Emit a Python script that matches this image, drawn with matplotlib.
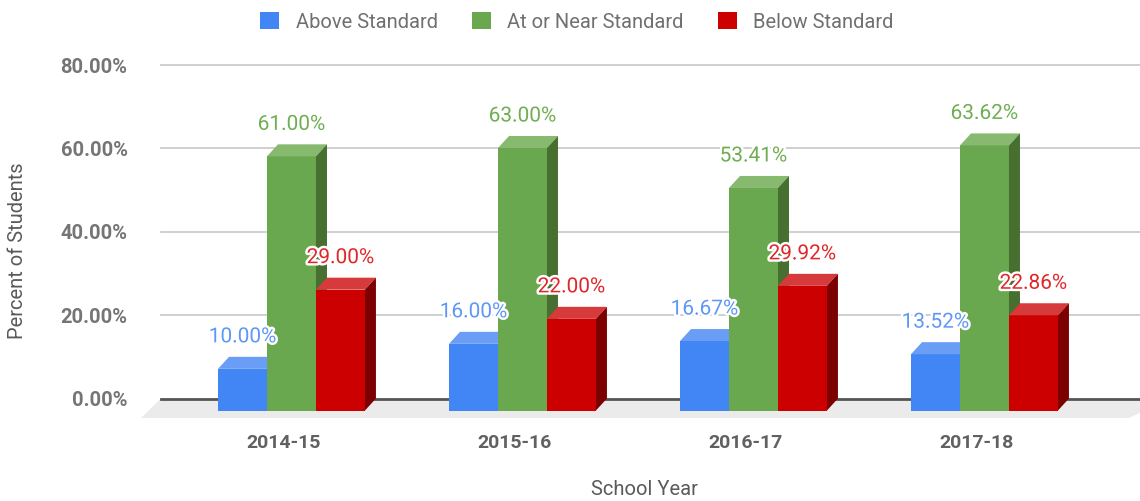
import matplotlib.pyplot as plt
from matplotlib.patches import Polygon, Patch
import matplotlib.patheffects as pe

plt.rcParams['font.family'] = ['Roboto', 'DejaVu Sans']

# data
years = ['2014-15', '2015-16', '2016-17', '2017-18']
series = ['Above Standard', 'At or Near Standard', 'Below Standard']
above = [10.00, 16.00, 16.67, 13.52]
near = [61.00, 63.00, 53.41, 63.62]
below = [29.00, 22.00, 29.92, 22.86]

front_cols = ['#4285f4', '#6aa84f', '#cc0000']
top_cols = ['#6a9ef6', '#87b96f', '#d63a3a']
side_cols = ['#2f62c0', '#466f30', '#7d0000']
label_cols = ['#5e97f6', '#6fae52', '#e0262a']

# geometry (group units on x, percent on y)
w = 0.212      # bar width
dx = 0.0476    # 3d depth in x
dy = 2.88      # 3d depth in y

fig = plt.figure(figsize=(11.4, 5.01), dpi=100)
ax = fig.add_axes([140 / 1140, 81 / 501, 1000 / 1140, 360 / 501])
ax.set_xlim(-0.6558, 3.6732)
ax.set_ylim(-5.16, 81.24)

# floor
x_back0, x_back1 = -0.5649, 3.80
x_front0, x_front1 = -0.6515, 3.6255
ax.add_patch(Polygon([(x_back0, 0), (x_back1, 0), (x_front1, -4.68), (x_front0, -4.68)],
                     closed=True, facecolor='#ebebeb', edgecolor='none', zorder=0))

# gridlines on the back wall
for v in [20, 40, 60, 80]:
    ax.plot([x_back0, 3.7], [v, v], color='#cccccc', lw=1.3, zorder=1)
ax.plot([x_back0, 3.7], [0, 0], color='#555555', lw=2, zorder=1)

for s, vals in enumerate([above, near, below]):
    for i, v in enumerate(vals):
        x0 = i + (s - 1) * w - w / 2
        x1 = x0 + w
        ax.bar(x0, v, width=w, bottom=-dy, align='edge', color=front_cols[s],
               edgecolor='none', zorder=3 + s)
        ax.add_patch(Polygon([(x0, v - dy), (x1, v - dy), (x1 + dx, v), (x0 + dx, v)],
                             closed=True, facecolor=top_cols[s], edgecolor='none', zorder=3 + s))
        ax.add_patch(Polygon([(x1, -dy), (x1, v - dy), (x1 + dx, v), (x1 + dx, 0)],
                             closed=True, facecolor=side_cols[s], edgecolor='none', zorder=3 + s))
        ax.text(x0 + w / 2, v + 4.8, f'{v:.2f}%', ha='center', va='center',
                fontsize=15, color=label_cols[s], zorder=10,
                path_effects=[pe.withStroke(linewidth=3.5, foreground='white')])

for sp in ax.spines.values():
    sp.set_visible(False)

ax.set_yticks([0, 20, 40, 60, 80])
ax.set_yticklabels([f'{t:.2f}%' for t in [0, 20, 40, 60, 80]],
                   fontsize=14.5, fontweight='bold', color='#757575')
ax.tick_params(axis='y', length=0, pad=9)

ax.set_xticks([i - 0.035 for i in range(len(years))])
ax.set_xticklabels(years, fontsize=14, fontweight='bold', color='#616161')
ax.tick_params(axis='x', length=0, pad=10)

fig.text(0.015, 0.50, 'Percent of Students', rotation=90, ha='center', va='center',
         fontsize=14.5, color='#5a5a5a')
fig.text(0.565, 0.022, 'School Year', ha='center', va='center',
         fontsize=14.5, color='#5a5a5a')

handles = [Patch(facecolor=c, edgecolor='none') for c in front_cols]
fig.legend(handles, series, loc='upper center', bbox_to_anchor=(0.506, 1.012), ncol=3,
           frameon=False, fontsize=14.5, labelcolor='#707070', handlelength=0.95,
           handleheight=0.95, columnspacing=1.7, handletextpad=0.8)

fig.savefig('out.png', dpi=100)
